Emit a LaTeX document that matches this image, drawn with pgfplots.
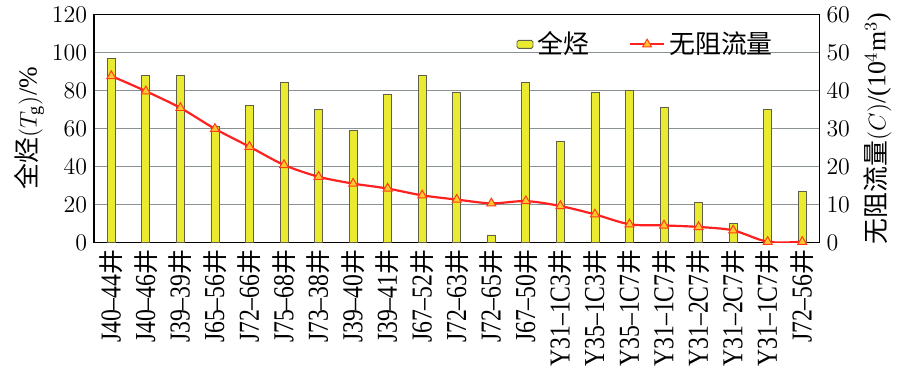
\documentclass[border={4pt 4pt 1pt 0pt}]{standalone}
\usepackage{pgfplots}
\pgfplotsset{compat=1.18}
\usepackage{fontspec}
\setmainfont{Liberation Serif}
\newfontfamily\narrow[FakeStretch=0.82,Ligatures=TeX]{Liberation Serif}
\newfontfamily\cjk{Noto Sans CJK SC}
\newcommand{\J}{\fontsize{12.5}{12.5}\cjk 井}
\definecolor{baryel}{HTML}{EAEA30}
\definecolor{baredge}{HTML}{606048}
\definecolor{linered}{HTML}{FF2020}
\definecolor{markfill}{HTML}{FFC830}
\definecolor{gridc}{HTML}{8A9294}
\begin{document}
\begin{tikzpicture}
\begin{axis}[
  width=364pt, height=114.5pt, scale only axis,
  xmin=-0.5, xmax=20.5, ymin=0, ymax=120,
  ytick={0,20,...,120}, ytick pos=left,
  xtick={0,...,20},
  xticklabels={J40\textendash 44\J,J40\textendash 46\J,J39\textendash 39\J,J65\textendash 56\J,J72\textendash 66\J,J75\textendash 68\J,J73\textendash 38\J,J39\textendash 40\J,J39\textendash 41\J,J67\textendash 52\J,J72\textendash 63\J,J72\textendash 65\J,J67\textendash 50\J,Y31\textendash 1C3\J,Y35\textendash 1C3\J,Y35\textendash 1C7\J,Y31\textendash 1C7\J,Y31\textendash 2C7\J,Y31\textendash 2C7\J,Y31\textendash 1C7\J,J72\textendash 56\J},
  xticklabel style={rotate=90, anchor=east, font=\narrow\fontsize{14.5}{14.5}\selectfont},
  major x tick style={draw=none},
  extra x ticks={0.5,1.5,...,19.5}, extra x tick labels={},
  extra x tick style={major tick length=3pt, tick align=inside, tick style={draw=gray}},
  yticklabel style={font=\fontsize{13}{13}\selectfont},
  major y tick style={draw=none},
  ymajorgrids, grid style={gridc, line width=0.7pt},
  ylabel={\cjk 全烃\rmfamily$(T_{\mathrm{g}})$/\%},
  ylabel style={font=\fontsize{13}{13}\selectfont, yshift=-3pt},
  axis line style={black, line width=0.7pt},
]
\addplot[ybar, bar width=4pt, fill=baryel, draw=baredge, line width=0.4pt] coordinates {
(0,97) (1,88) (2,88) (3,61) (4,72) (5,84) (6,70) (7,59) (8,78) (9,88)
(10,79) (11,4) (12,84) (13,53) (14,79) (15,80) (16,71) (17,21) (18,10) (19,70) (20,27)};
\end{axis}
\begin{axis}[
  width=364pt, height=114.5pt, scale only axis,
  xmin=-0.5, xmax=20.5, ymin=0, ymax=60,
  ytick={0,10,...,60},
  axis y line*=right, axis x line=none,
  major y tick style={draw=none},
  yticklabel style={font=\fontsize{13}{13}\selectfont},
  ylabel={\cjk 无阻流量\rmfamily$(C)$/(10$^4$m$^3$)},
  ylabel style={font=\fontsize{13}{13}\selectfont},
  axis line style={black, line width=0.7pt},
  legend style={at={(0.95,0.96)}, anchor=north east, draw=none, fill=none,
    legend columns=2, font=\cjk\fontsize{13}{13}\selectfont,
    /tikz/every even column/.append style={column sep=18pt}},
]
\addlegendimage{legend image code/.code={\draw[fill=baryel,draw=baredge,rounded corners=0.8pt] (0pt,-2pt) rectangle (8pt,2pt);}}
\addlegendentry{全烃}
\addplot[linered, line width=1.1pt, smooth, mark=triangle*, mark size=2.6pt,
  mark options={fill=markfill, draw=linered!70!orange, line width=0.5pt}] coordinates {
(0,43.8) (1,39.8) (2,35.4) (3,29.9) (4,25.2) (5,20.4) (6,17.3) (7,15.5) (8,14.2) (9,12.4)
(10,11.3) (11,10.3) (12,10.9) (13,9.6) (14,7.4) (15,4.8) (16,4.5) (17,4.1) (18,3.2) (19,0.2) (20,0.2)};
\addlegendentry{无阻流量}
\end{axis}
\end{tikzpicture}
\end{document}
